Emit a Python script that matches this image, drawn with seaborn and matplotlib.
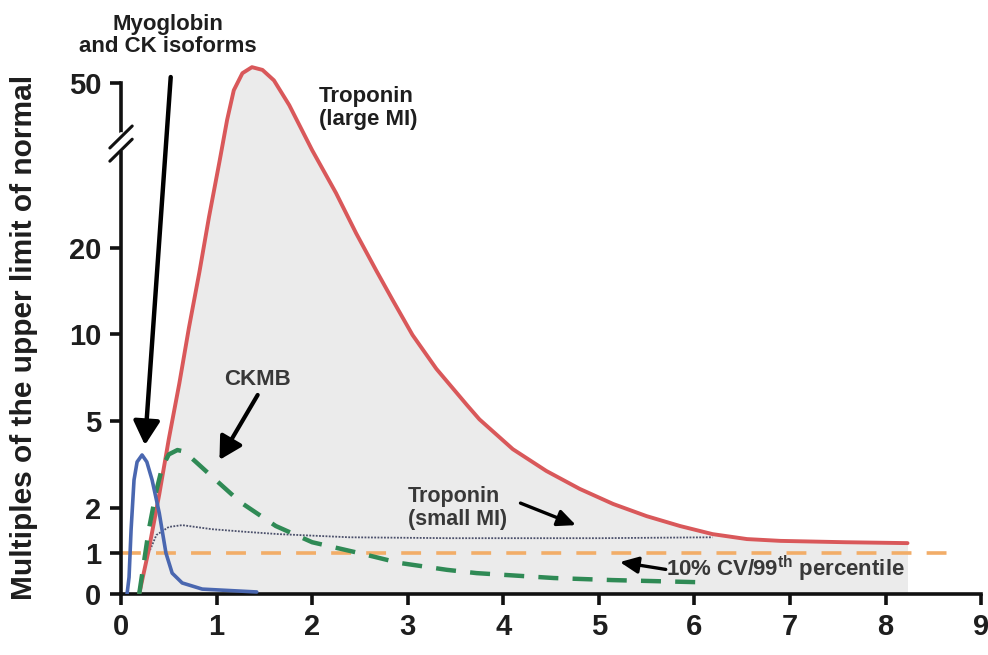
import numpy as np
import matplotlib
matplotlib.use("Agg")
import matplotlib.pyplot as plt
import seaborn as sns

scale_vals = [0, 1, 2, 5, 10, 20, 50, 70]
scale_pos = [0, 41, 86, 173, 260, 346, 511, 621]

x_ticks = [0, 1, 2, 3, 4, 5, 6, 7, 8, 9]
y_ticks = [0, 1, 2, 5, 10, 20, 50]

# Troponin (large MI)
tropo_large_x = [0.19, 0.29, 0.40, 0.50, 0.61, 0.71, 0.82, 0.92, 1.03, 1.11, 1.18,
                 1.27, 1.37, 1.48, 1.60, 1.76, 2.0, 2.25, 2.46, 2.67, 2.84, 3.05, 3.30, 3.62,
                 3.75, 4.10, 4.45, 4.80, 5.15, 5.50, 5.85, 6.19, 6.55, 6.90, 7.58, 8.23]
tropo_large_y = [0, 1.07, 2.47, 4.38, 7.16, 10.7, 17.2, 25.6, 35.7, 43.3, 48.7,
                 51.8, 52.9, 52.4, 50.5, 46.0, 37.8, 30.0, 22.7, 17.4, 14.0, 9.95, 8.0, 5.92,
                 5.1, 4.03, 3.28, 2.66, 2.14, 1.82, 1.6, 1.42, 1.31, 1.27, 1.24, 1.22]

# Troponin (small MI)
tropo_small_x = [0.29, 0.37, 0.50, 0.64, 0.95, 1.31, 1.65, 2.39, 3.44, 5.01, 6.19]
tropo_small_y = [1.0, 1.4, 1.58, 1.62, 1.53, 1.47, 1.42, 1.35, 1.33, 1.33, 1.35]

# Myoglobin / CK isoforms
myo_x = [0.063, 0.084, 0.105, 0.136, 0.168, 0.22, 0.27, 0.325, 0.40, 0.47, 0.535, 0.64, 0.85, 1.42]
myo_y = [0, 0.41, 1.51, 2.97, 3.59, 3.83, 3.59, 2.97, 1.89, 1.0, 0.51, 0.27, 0.12, 0.05]

# CKMB
ckmb_x = [0.19, 0.29, 0.37, 0.43, 0.50, 0.59, 0.66, 0.78, 0.99, 1.25, 1.62, 2.0, 2.49,
          2.91, 3.41, 3.72, 4.53, 5.14, 6.01]
ckmb_y = [0, 1.51, 2.6, 3.4, 3.85, 4.0, 3.95, 3.6, 2.97, 2.2, 1.6, 1.24, 1.0,
          0.76, 0.59, 0.51, 0.39, 0.34, 0.29]

# 10% CV / 99th percentile
cutoff_x = [0, 8.68]
cutoff_y = [1, 1]


def fwd(v):
    return np.interp(v, scale_vals, scale_pos)


def inv(p):
    return np.interp(p, scale_pos, scale_vals)


sns.set_style("ticks")
plt.rcParams['font.family'] = ['Liberation Sans', 'DejaVu Sans']
plt.rcParams['font.weight'] = 'bold'
plt.rcParams['mathtext.fontset'] = 'custom'
plt.rcParams['mathtext.rm'] = 'Liberation Sans:bold'
plt.rcParams['mathtext.bf'] = 'Liberation Sans:bold'

txt = "#1e1e1e"
grey_txt = "#383838"

fig = plt.figure(figsize=(9.88, 6.55), dpi=100)
ax = fig.add_axes([0.1225, 0.0931, 0.8705, 0.822])
ax.set_yscale('function', functions=(fwd, inv))

# graue Fläche unter Troponin (large MI)
ax.fill_between(tropo_large_x, tropo_large_y, color="#ebebeb", lw=0, zorder=1)

sns.lineplot(x=cutoff_x, y=cutoff_y, ax=ax, color="#f2ad68", linewidth=2.6,
             linestyle=(0, (5.5, 4.2)), errorbar=None, zorder=2)
sns.lineplot(x=tropo_small_x, y=tropo_small_y, ax=ax, color="#4a4f6a", linewidth=1.3,
             linestyle=(0, (1, 0.8)), errorbar=None, zorder=3)
sns.lineplot(x=tropo_large_x, y=tropo_large_y, ax=ax, color="#d9585a", linewidth=2.8,
             errorbar=None, zorder=4)
sns.lineplot(x=ckmb_x, y=ckmb_y, ax=ax, color="#2f8a55", linewidth=3.2,
             linestyle=(0, (4.5, 3.2)), errorbar=None, zorder=5)
sns.lineplot(x=myo_x, y=myo_y, ax=ax, color="#4a67b0", linewidth=2.6,
             errorbar=None, zorder=6)

ax.set_xlim(0, 9)
ax.set_ylim(0, 55)
ax.set_xticks(x_ticks)
ax.set_yticks(y_ticks)
ax.set_xticklabels([str(t) for t in x_ticks])
ax.set_yticklabels([str(t) for t in y_ticks])
ax.tick_params(axis='both', labelsize=21, length=8, width=2.6, color="#111111",
               labelcolor=txt, pad=6)
for lab in ax.get_xticklabels() + ax.get_yticklabels():
    lab.set_fontweight('bold')

sns.despine(ax=ax)
ax.spines['left'].set_bounds(0, 50)
ax.spines['bottom'].set_bounds(0, 9)
for s in ['left', 'bottom']:
    ax.spines[s].set_linewidth(2.6)
    ax.spines[s].set_color("#111111")

ax.set_ylabel("Multiples of the upper limit of normal", fontsize=21.5, fontweight='bold',
              color=txt)
ax.yaxis.set_label_coords(-0.097, 0.477)
ax.set_xlabel("")

# Achsenbruch //
yt = ax.get_yaxis_transform()
ax.plot([0, 0], [38.4, 40.6], transform=yt, color="white", lw=5, clip_on=False, zorder=10)
ax.plot([-0.013, 0.013], [38.2, 42.2], transform=yt, color="#111111", lw=2.2,
        clip_on=False, zorder=11)
ax.plot([-0.013, 0.013], [35.8, 39.8], transform=yt, color="#111111", lw=2.2,
        clip_on=False, zorder=11)

# Beschriftungen
ax.text(0.49, 58.6, "Myoglobin\nand CK isoforms", ha='center', va='center', fontsize=16,
        fontweight='bold', color=txt, linespacing=1.05, clip_on=False)
ax.annotate("", xy=(0.25, 4.17), xytext=(0.52, 51.1), annotation_clip=False,
            arrowprops=dict(arrowstyle="-|>,head_length=0.9,head_width=0.5", lw=3.2,
                            mutation_scale=16, color="black", shrinkA=0, shrinkB=0))

ax.text(2.07, 45.5, "Troponin\n(large MI)", ha='left', va='center', fontsize=16,
        fontweight='bold', color=txt, linespacing=1.1)

ax.text(1.43, 7.4, "CKMB", ha='center', va='center', fontsize=16,
        fontweight='bold', color=grey_txt)
ax.annotate("", xy=(1.03, 3.66), xytext=(1.43, 6.5),
            arrowprops=dict(arrowstyle="-|>,head_length=0.9,head_width=0.5", lw=3.0,
                            mutation_scale=15, color="black", shrinkA=0, shrinkB=0))

ax.text(3.0, 2.0, "Troponin\n(small MI)", ha='left', va='center', fontsize=15.5,
        fontweight='bold', color=grey_txt, linespacing=1.1)
ax.annotate("", xy=(4.76, 1.62), xytext=(4.18, 2.17),
            arrowprops=dict(arrowstyle="-|>,head_length=1.1,head_width=0.5", lw=2.4,
                            mutation_scale=10, color="black", shrinkA=0, shrinkB=0))

ax.text(5.70, 0.61, "10% CV/99$^{\\mathbf{th}}$ percentile", ha='left', va='center',
        fontsize=16, fontweight='bold', color=grey_txt)
ax.annotate("", xy=(5.22, 0.78), xytext=(5.70, 0.6),
            arrowprops=dict(arrowstyle="-|>,head_length=1.1,head_width=0.5", lw=2.4,
                            mutation_scale=10, color="black", shrinkA=0, shrinkB=0))

fig.savefig("out.png", dpi=100)
